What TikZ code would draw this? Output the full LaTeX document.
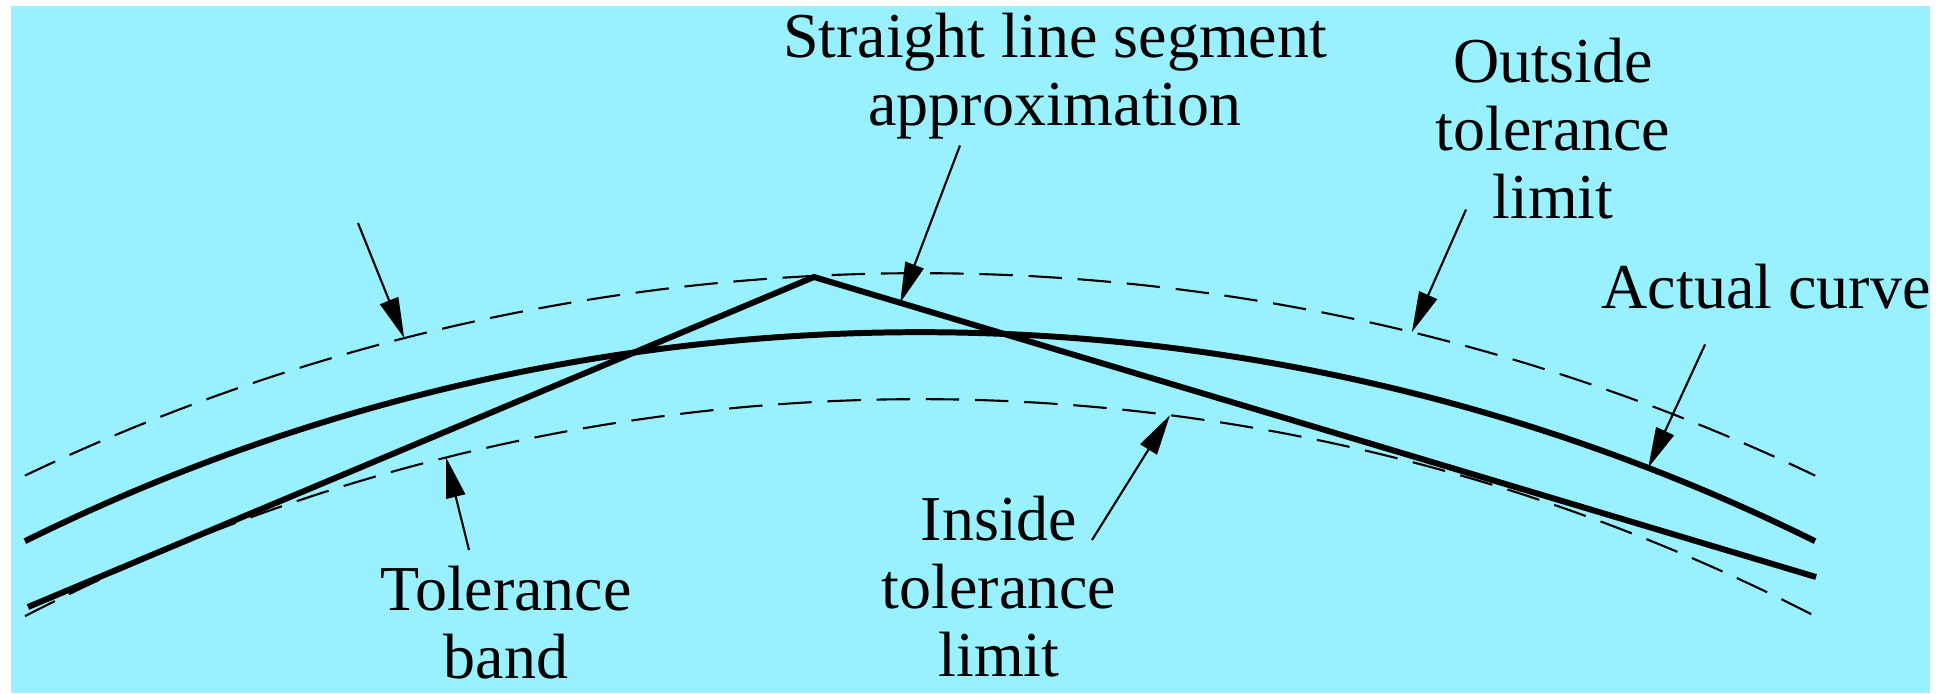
\documentclass[tikz,border=0pt]{standalone}
\usepackage{fontspec}
\setmainfont{Liberation Serif}
\usetikzlibrary{arrows.meta,calc}
\definecolor{bgc}{RGB}{153,240,254}
\tikzset{curve/.style={line width=1.7pt},
 seg/.style={line width=1.7pt,line join=miter},
 lim/.style={line width=.6pt,dash pattern=on 9.5pt off 4.5pt},
 arr/.style={-{Triangle[length=11.5pt,width=5.5pt]},line width=.6pt},
 lbl/.style={align=center,inner sep=0pt,font=\fontsize{18.2}{19.35}\selectfont}}

\begin{document}
\begin{tikzpicture}[x=0.01cm,y=0.01cm]
\useasboundingbox (0,0) rectangle (1943,693);
\fill[bgc] (11,0) rectangle (1930,687);
\coordinate (ctr) at (920,-1660);
% tolerance limits and actual curve
\draw[lim] ($(ctr)+(115.49:2080)$) arc[start angle=115.49,end angle=64.51,radius=2080];
\draw[lim] ($(ctr)+(117.26:1954)$) arc[start angle=117.26,end angle=62.74,radius=1954];
\draw[curve] ($(ctr)+(116.29:2021)$) arc[start angle=116.29,end angle=63.71,radius=2021];
% straight line segments
\coordinate (sl) at (28,86);
\coordinate (apex) at (814,416);
\coordinate (sr) at (1816,116);
\draw[seg] (sl) -- (apex) -- (sr);
% labels
\node[lbl,anchor=north] (sega) at (1055,681) {Straight line segment\\approximation};
\node[lbl,anchor=north] (outl) at (1553,656) {Outside\\tolerance\\limit};
\node[lbl,anchor=north west] (actc) at (1601,430) {Actual curve};
\node[lbl,anchor=north] (inl) at (999,198) {Inside\\tolerance\\limit};
\node[lbl,anchor=north] (band) at (506,128) {Tolerance\\band};
% arrow tips on the curves
\coordinate (tolo) at ($(ctr)+(104.36:2080)$);
\coordinate (toli) at ($(ctr)+(104.04:1954)$);
\coordinate (segp) at ($(apex)!0.086!(sr)$);
\coordinate (outp) at ($(ctr)+(76.32:2080)$);
\coordinate (actp) at ($(ctr)+(68.88:2021)$);
\coordinate (inp) at ($(ctr)+(82.65:1954)$);
% arrow tails
\coordinate (tolt) at (358,470);
\coordinate (bandt) at ($(band.north)+(-37,15)$);
\coordinate (segt) at ($(sega.south)+(-95,-6)$);
\coordinate (outt) at ($(outl.south)+(-87,10)$);
\coordinate (actt) at ($(actc.south)+(-61,-35)$);
\coordinate (inlt) at ($(inl.north)+(93,-45)$);
\foreach \u/\v in {tolt/tolo,bandt/toli,segt/segp,outt/outp,actt/actp,inlt/inp}{\draw[arr] (\u)--(\v);}
\end{tikzpicture}
\end{document}
